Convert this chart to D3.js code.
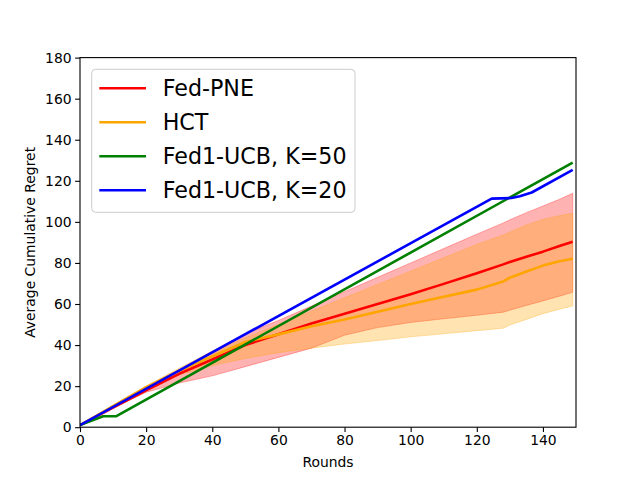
<!DOCTYPE html>
<html>
<head>
<meta charset="utf-8">
<script src="https://cdn.jsdelivr.net/npm/d3@7"></script>
<style>
body { margin: 0; background: #fff; }
text { font-family: "DejaVu Sans", sans-serif; }
</style>
</head>
<body>
<svg id="svg" width="640" height="480"></svg>
<script>
// rounds grid shared by the two banded series
var bandRounds = [0, 10, 20, 30, 40, 50, 60, 70, 80, 90, 100, 110, 120, 128, 130, 135, 140, 145, 149]

var pneMean = [1, 9.6, 18, 26, 33, 40, 45.3, 50.5, 55.2, 60, 64.8, 69.8, 75, 79.3, 80.5, 83, 85.5, 88.2, 90.3]
var pneHigh = [1, 9.9, 19, 28, 37, 45.5, 52, 59, 66, 73, 80, 87, 94, 99.5, 101, 104.5, 107.7, 111, 113.9]
var pneLow  = [1, 9.3, 17, 21.5, 25, 29.5, 34, 38.5, 44.8, 48.5, 51, 52.8, 54.5, 56, 57, 59.3, 61.5, 63.8, 65.7]

var hctMean = [1, 10.3, 19.5, 27.5, 34.5, 41.5, 45.2, 49.2, 52.5, 56.2, 60, 63.5, 67, 71, 72.8, 75.8, 78.7, 80.8, 82]
var hctHigh = [1, 10.8, 20, 28.8, 37, 43.5, 50, 56.5, 63, 69.5, 76, 82.5, 89, 93.6, 95, 98.5, 101.2, 103, 104.2]
var hctLow  = [1, 10, 18.5, 25.5, 30, 33.5, 36.3, 38.5, 40.5, 42.2, 44, 45.5, 47, 48.2, 49.8, 52.5, 55.3, 57.5, 59]

var k50Rounds = [0, 7, 11, 149]
var k50Regret = [1, 5.3, 5.4, 128.9]

var k20Rounds = [0, 124.5, 130.5, 133, 136.6, 149]
var k20Regret = [1, 111.3, 111.6, 112.5, 114.3, 125.3]

var xTicks = [0, 20, 40, 60, 80, 100, 120, 140]
var yTicks = [0, 20, 40, 60, 80, 100, 120, 140, 160, 180]

var labels = ["Fed-PNE", "HCT", "Fed1-UCB, K=50", "Fed1-UCB, K=20"]
var colors = ["#ff0000", "#ffa500", "#008000", "#0000ff"]

var svg = d3.select("#svg")
var axLeft = 80, axRight = 576, axTop = 57.6, axBottom = 427.2

var x = d3.scaleLinear().domain([0, 150]).range([axLeft, axRight])
var y = d3.scaleLinear().domain([0, 180]).range([axBottom, axTop])

svg.append("clipPath").attr("id", "clip")
	.append("rect")
	.attr("x", axLeft).attr("y", axTop)
	.attr("width", axRight - axLeft).attr("height", axBottom - axTop)

var plot = svg.append("g").attr("clip-path", "url(#clip)")

function band(low, high, color) {
	var area = d3.area()
		.x(function (d, i) { return x(bandRounds[i]) })
		.y0(function (d, i) { return y(low[i]) })
		.y1(function (d, i) { return y(high[i]) })
	plot.append("path")
		.attr("d", area(low))
		.style("fill", color)
		.style("fill-opacity", 0.3)
		.style("stroke", color)
		.style("stroke-opacity", 0.3)
		.style("stroke-width", 1)
}

function line(xs, ys, color) {
	var l = d3.line()
		.x(function (d, i) { return x(xs[i]) })
		.y(function (d, i) { return y(ys[i]) })
	plot.append("path")
		.attr("d", l(ys))
		.style("fill", "none")
		.style("stroke", color)
		.style("stroke-width", 2.6)
		.style("stroke-linejoin", "round")
}

band(pneLow, pneHigh, colors[0])
band(hctLow, hctHigh, colors[1])
line(bandRounds, pneMean, colors[0])
line(bandRounds, hctMean, colors[1])
line(k50Rounds, k50Regret, colors[2])
line(k20Rounds, k20Regret, colors[3])

// axes
var xAxis = d3.axisBottom(x).tickValues(xTicks).tickSize(4.9).tickPadding(3.5)
var yAxis = d3.axisLeft(y).tickValues(yTicks).tickSize(4.9).tickPadding(3.5)

var gx = svg.append("g").attr("transform", "translate(0," + axBottom + ")").call(xAxis)
var gy = svg.append("g").attr("transform", "translate(" + axLeft + ",0)").call(yAxis)
;[gx, gy].forEach(function (g) {
	g.select(".domain").remove()
	g.selectAll(".tick line").style("stroke", "#000").style("stroke-width", 1.1)
	g.selectAll(".tick text")
		.style("font-family", "DejaVu Sans")
		.style("font-size", "13.9px")
		.style("fill", "#000")
})

// spines
svg.append("rect")
	.attr("x", axLeft).attr("y", axTop)
	.attr("width", axRight - axLeft).attr("height", axBottom - axTop)
	.style("fill", "none")
	.style("stroke", "#000")
	.style("stroke-width", 1.1)

svg.append("text")
	.attr("x", (axLeft + axRight) / 2).attr("y", 467)
	.attr("text-anchor", "middle")
	.style("font-size", "13.9px")
	.text("Rounds")

svg.append("text")
	.attr("transform", "translate(35," + (axTop + axBottom) / 2 + ") rotate(-90)")
	.attr("text-anchor", "middle")
	.style("font-size", "13.9px")
	.text("Average Cumulative Regret")

// legend
var legend = svg.append("g")
legend.append("rect")
	.attr("x", 91.7).attr("y", 69.3)
	.attr("width", 263.3).attr("height", 143)
	.attr("rx", 4).attr("ry", 4)
	.style("fill", "#fff")
	.style("fill-opacity", 0.8)
	.style("stroke", "#cccccc")
	.style("stroke-width", 1)

labels.forEach(function (name, i) {
	var cy = 88.3 + i * 34
	legend.append("line")
		.attr("x1", 99.3).attr("x2", 146)
		.attr("y1", cy).attr("y2", cy)
		.style("stroke", colors[i])
		.style("stroke-width", 2.6)
	legend.append("text")
		.attr("x", 162.7).attr("y", cy + 8)
		.style("font-size", "22.2px")
		.style("fill", "#000")
		.text(name)
})
</script>
</body>
</html>
